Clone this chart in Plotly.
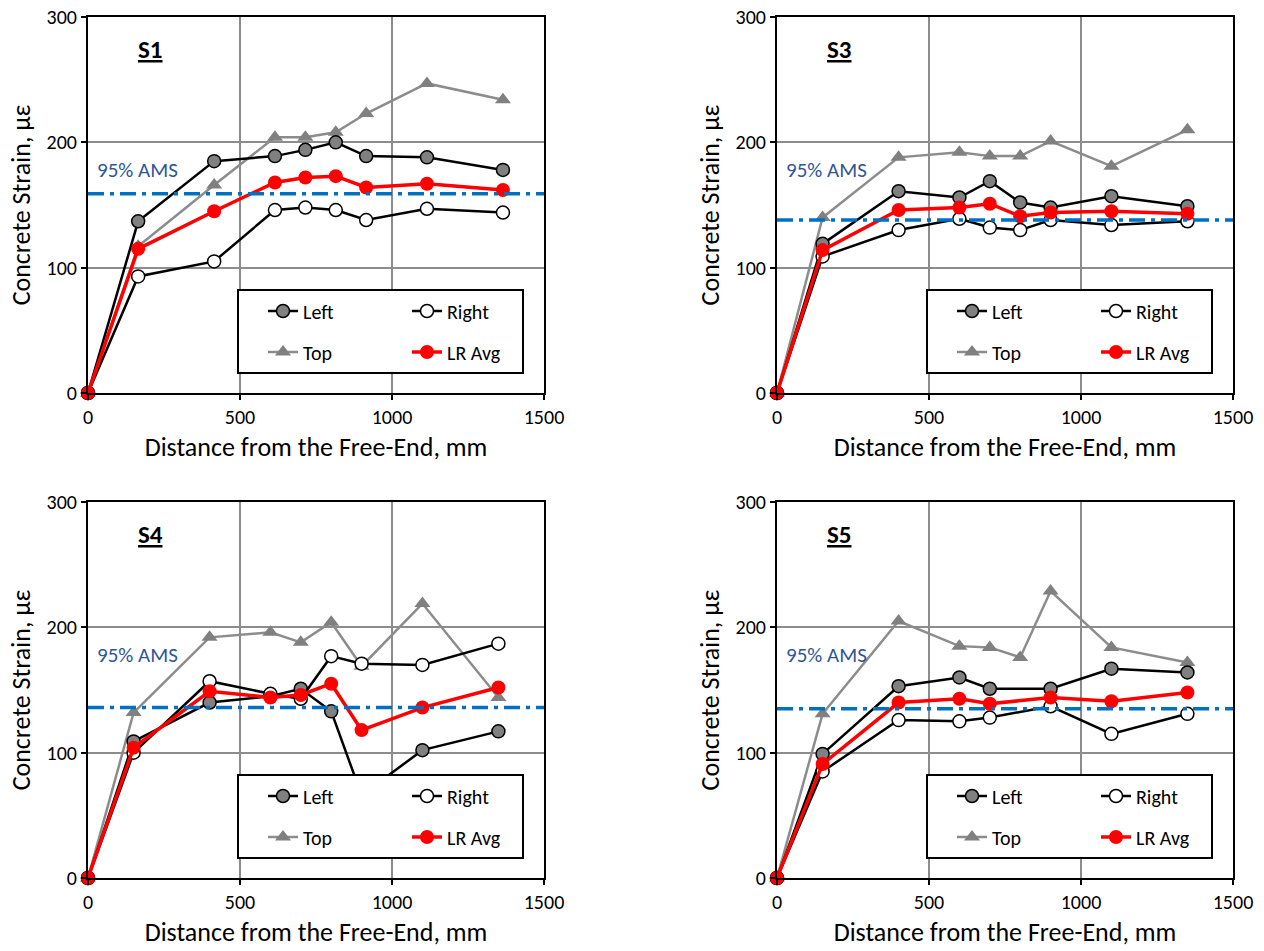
import plotly.graph_objects as go

# ---------------- data ----------------
x_s1 = [0, 165, 415, 615, 715, 815, 915, 1115, 1365]
s1_left = [0, 137, 185, 189, 194, 200, 189, 188, 178]
s1_right = [0, 93, 105, 146, 148, 146, 138, 147, 144]
s1_top = [0, 117, 166, 204, 204, 208, 223, 247, 234]
s1_avg = [0, 115, 145, 168, 172, 173, 164, 167, 162]
s1_ams = 159

x_s3 = [0, 150, 400, 600, 700, 800, 900, 1100, 1350]
s3_left = [0, 119, 161, 156, 169, 152, 148, 157, 149]
s3_right = [0, 109, 130, 139, 132, 130, 138, 134, 137]
s3_top = [0, 140, 188, 192, 189, 189, 201, 181, 210]
s3_avg = [0, 114, 146, 148, 151, 141, 144, 145, 143]
s3_ams = 138

x_s4 = [0, 150, 400, 600, 700, 800, 900, 1100, 1350]
s4_left = [0, 109, 140, 145, 151, 133, 66, 102, 117]
s4_right = [0, 100, 157, 147, 143, 177, 171, 170, 187]
s4_top = [0, 132, 192, 196, 188, 204, 169, 219, 144]
s4_avg = [0, 104, 149, 144, 146, 155, 118, 136, 152]
s4_ams = 136

x_s5 = [0, 150, 400, 600, 700, 900, 1100, 1350]
x_s5_top = [0, 150, 400, 600, 700, 800, 900, 1100, 1350]
s5_left = [0, 99, 153, 160, 151, 151, 167, 164]
s5_right = [0, 85, 126, 125, 128, 137, 115, 131]
s5_top = [0, 131, 205, 185, 184, 176, 229, 184, 172]
s5_avg = [0, 91, 140, 143, 139, 144, 141, 148]
s5_ams = 135

x_ticks = [0, 500, 1000, 1500]
y_ticks = [0, 100, 200, 300]
ams_label = "95% AMS"
x_title = "Distance from the Free-End, mm"
y_title = "Concrete Strain, με"

panels = [
    dict(name="S1", x=x_s1, xt=x_s1, left=s1_left, right=s1_right, top=s1_top, avg=s1_avg, ams=s1_ams),
    dict(name="S3", x=x_s3, xt=x_s3, left=s3_left, right=s3_right, top=s3_top, avg=s3_avg, ams=s3_ams),
    dict(name="S4", x=x_s4, xt=x_s4, left=s4_left, right=s4_right, top=s4_top, avg=s4_avg, ams=s4_ams),
    dict(name="S5", x=x_s5, xt=x_s5_top, left=s5_left, right=s5_right, top=s5_top, avg=s5_avg, ams=s5_ams),
]

# ---------------- layout helpers ----------------
W, H = 1264, 951
FONT = "Carlito, Lato, sans-serif"
offsets = [(0, 0), (689, 0), (0, 485), (689, 485)]
PX0, PX1, PY0, PY1 = 88, 544, 17, 393


def px(x):
    return x / W


def py(y):
    return 1 - y / H


fig = go.Figure()
layout = dict(
    width=W, height=H,
    margin=dict(l=0, r=0, t=0, b=0, autoexpand=False),
    paper_bgcolor="white", plot_bgcolor="white",
    font=dict(family=FONT, color="black", size=20),
    showlegend=True,
)
shapes = []
annotations = []

GRID = "#8c8c8c"
for i, (p, (dx, dy)) in enumerate(zip(panels, offsets)):
    k = i + 1
    xa = "x" if k == 1 else f"x{k}"
    ya = "y" if k == 1 else f"y{k}"
    xkey = "xaxis" if k == 1 else f"xaxis{k}"
    ykey = "yaxis" if k == 1 else f"yaxis{k}"
    layout[xkey] = dict(
        domain=[px(PX0 + dx), px(PX1 + dx)], anchor=ya, range=[0, 1500],
        tickvals=x_ticks, ticks="outside", ticklen=5, tickwidth=2, tickcolor="black",
        showline=True, linecolor="black", linewidth=2, mirror=True,
        showgrid=True, gridcolor=GRID, gridwidth=2, zeroline=False, automargin=False,
        tickfont=dict(size=20, family=FONT),
        title=dict(text=x_title, font=dict(size=26, family=FONT), standoff=10),
    )
    layout[ykey] = dict(
        domain=[py(PY1 + dy), py(PY0 + dy)], anchor=xa, range=[0, 300],
        tickvals=y_ticks, ticks="outside", ticklen=5, tickwidth=2, tickcolor="black",
        showline=True, linecolor="black", linewidth=2, mirror=True,
        showgrid=True, gridcolor=GRID, gridwidth=2, zeroline=False, automargin=False,
        tickfont=dict(size=20, family=FONT),
        title=dict(text=y_title, font=dict(size=26, family=FONT), standoff=8),
    )

    lg = [f"legend{4*i+j+1}" if (4*i+j) > 0 else "legend" for j in range(4)]
    lpos = [(263, 311), (407, 311), (263, 352), (407, 352)]
    for j, name in enumerate(lg):
        lx, ly = lpos[j]
        layout[name] = dict(
            x=px(lx + dx), y=py(ly + dy), xanchor="left", yanchor="middle",
            bgcolor="rgba(0,0,0,0)", borderwidth=0, orientation="h",
            font=dict(size=20, family=FONT, color="black"),
        )

    fig.add_trace(go.Scatter(
        x=p["xt"], y=p["top"], mode="lines+markers", name="Top",
        line=dict(color="#8c8c8c", width=2.5),
        marker=dict(symbol="triangle-up", size=14, color="#808080", line=dict(width=0)),
        xaxis=xa, yaxis=ya, legend=lg[2], cliponaxis=False,
    ))
    fig.add_trace(go.Scatter(
        x=p["x"], y=p["left"], mode="lines+markers", name="Left",
        line=dict(color="black", width=2.5),
        marker=dict(symbol="circle", size=13, color="#808080", line=dict(color="black", width=1.5)),
        xaxis=xa, yaxis=ya, legend=lg[0], cliponaxis=False,
    ))
    fig.add_trace(go.Scatter(
        x=p["x"], y=p["right"], mode="lines+markers", name="Right",
        line=dict(color="black", width=2.5),
        marker=dict(symbol="circle", size=13, color="white", line=dict(color="black", width=1.5)),
        xaxis=xa, yaxis=ya, legend=lg[1], cliponaxis=False,
    ))
    fig.add_trace(go.Scatter(
        x=p["x"], y=p["avg"], mode="lines+markers", name="LR Avg",
        line=dict(color="#ff0000", width=3.5),
        marker=dict(symbol="circle", size=14, color="#ff0000", line=dict(width=0)),
        xaxis=xa, yaxis=ya, legend=lg[3], cliponaxis=False,
    ))
    fig.add_trace(go.Scatter(
        x=[0, 1500], y=[p["ams"], p["ams"]], mode="lines", showlegend=False,
        line=dict(color="#0070C0", width=3.5, dash="16px,6px,4px,6px"),
        xaxis=xa, yaxis=ya,
    ))

    shapes.append(dict(
        type="rect", xref="paper", yref="paper", layer="above",
        x0=px(238 + dx), x1=px(523 + dx), y0=py(373 + dy), y1=py(290 + dy),
        line=dict(color="black", width=2), fillcolor="white",
    ))
    annotations.append(dict(
        xref=xa, yref=ya, x=207, y=274, text=f"<b>{p['name']}</b>", showarrow=False,
        font=dict(size=25, family=FONT, color="black", lineposition="under"),
        xanchor="center", yanchor="middle",
    ))
    annotations.append(dict(
        xref=xa, yref=ya, x=23, y=178, text=ams_label, showarrow=False,
        font=dict(size=21, family=FONT, color="#2F5597"),
        xanchor="left", yanchor="middle",
    ))

layout["shapes"] = shapes
layout["annotations"] = annotations
fig.update_layout(**layout)
fig.write_html("out.html")
